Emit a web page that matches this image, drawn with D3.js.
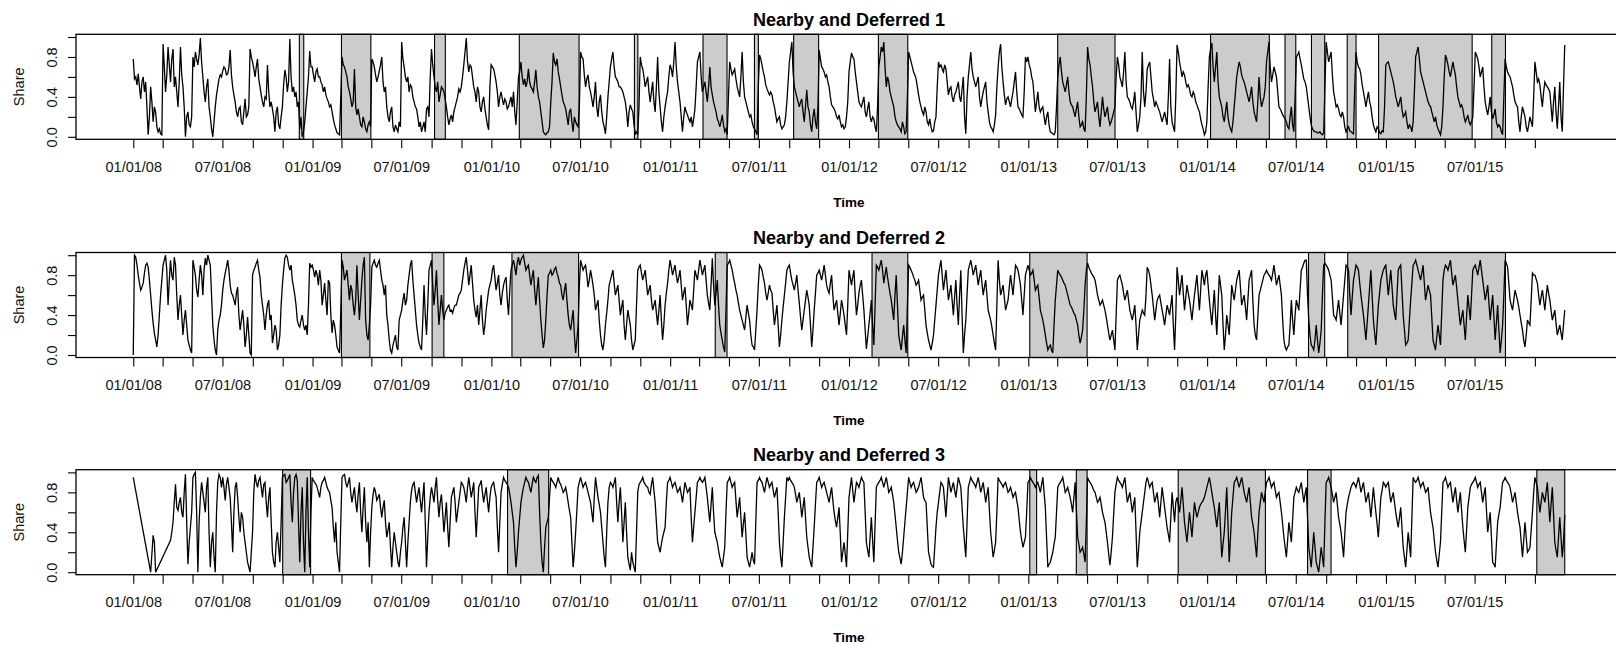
<!DOCTYPE html>
<html><head><meta charset="utf-8">
<script src="https://cdn.jsdelivr.net/npm/d3@7"></script>
<style>body{margin:0;background:#fff}svg{display:block}</style>
</head><body>
<svg id="chart" width="1616" height="645"></svg>
<script>
// ---------- data ----------
const titles = ["Nearby and Deferred 1", "Nearby and Deferred 2", "Nearby and Deferred 3"];
const seriesStart = "2008-01-01";
const seriesEnd = "2016-01-01";

// share values, one row per two-month block (Jan08 .. Nov15), evenly spaced in time
const share1 = [
.78,.58,.6,.52,.63,.5,.38,.55,.6,.45,.55,.3,.02,.2,.5,.35,.15,.3,.25,.1,.05,.08,.03,.02,
.93,.7,.45,.62,.9,.72,.55,.78,.88,.5,.6,.45,.3,.55,.9,.62,.5,.3,.0,.2,.25,.12,.1,.2,
.8,.7,.85,.78,.72,.82,.99,.75,.6,.45,.35,.5,.58,.3,.2,.08,.0,.15,.3,.42,.5,.58,.62,.6,
.66,.7,.68,.62,.63,.7,.87,.62,.5,.42,.35,.25,.2,.28,.3,.15,.12,.25,.38,.2,.22,.3,.88,.8,
.75,.68,.6,.7,.78,.58,.5,.42,.35,.3,.4,.38,.72,.45,.3,.35,.28,.2,.05,.25,.3,.12,.08,.2,
.3,.52,.67,.6,.45,.55,.98,.6,.45,.5,.4,.45,.3,.35,.08,.2,.0,.05,.15,.3,.45,.6,.86,.7,
.7,.62,.55,.65,.68,.6,.6,.55,.52,.45,.5,.42,.38,.35,.3,.32,.25,.18,.12,.08,.04,.03,.02,.4,
.8,.72,.7,.65,.6,.5,.45,.38,.3,.35,.68,.3,.22,.28,.2,.12,.1,.2,.15,.08,.05,.12,.15,.1,
.78,.75,.7,.62,.55,.6,.66,.72,.8,.55,.45,.5,.3,.2,.15,.25,.3,.1,.05,.12,.08,.05,.15,.1,
.95,.78,.7,.6,.55,.6,.45,.52,.5,.4,.35,.3,.28,.2,.1,.15,.05,.1,.15,.05,.28,.3,.2,.6,
.88,.72,.6,.5,.45,.55,.35,.42,.5,.48,.45,.38,.3,.2,.12,.18,.22,.15,.25,.3,.35,.4,.48,.45,
.5,.6,.72,.85,.99,.75,.65,.72,.7,.6,.5,.45,.35,.5,.45,.3,.25,.35,.4,.28,.2,.12,.07,.5,
.72,.7,.68,.62,.55,.45,.3,.4,.45,.38,.32,.38,.35,.28,.3,.35,.4,.3,.45,.25,.12,.35,.6,.65,
.75,.6,.52,.58,.5,.55,.68,.55,.5,.48,.45,.55,.67,.5,.4,.35,.25,.15,.05,.03,.02,.04,.05,.1,
.35,.55,.84,.75,.72,.78,.65,.58,.5,.42,.35,.32,.28,.2,.12,.25,.28,.15,.05,.2,.15,.12,.1,.3,
.85,.8,.78,.62,.5,.58,.62,.5,.45,.38,.3,.4,.55,.3,.2,.35,.42,.25,.15,.1,.03,.2,.4,.55,
.7,.78,.85,.7,.6,.58,.55,.5,.5,.48,.45,.4,.35,.25,.1,.25,.32,.28,.25,.12,.03,.05,.02,.3,
.8,.72,.68,.6,.5,.55,.6,.45,.35,.45,.55,.35,.25,.5,.8,.45,.3,.15,.05,.2,.3,.38,.45,.6,
.72,.68,.6,.75,.95,.7,.55,.45,.35,.2,.05,.2,.3,.25,.22,.18,.15,.2,.1,.18,.28,.5,.75,.8,
.85,.6,.45,.5,.55,.45,.35,.5,.7,.5,.42,.35,.3,.25,.18,.15,.1,.15,.22,.12,.05,.08,.02,.4,
.75,.68,.62,.65,.68,.58,.5,.45,.4,.6,.85,.55,.4,.35,.3,.25,.2,.22,.15,.1,.08,.05,.02,.5,
.82,.78,.72,.65,.6,.52,.48,.45,.42,.45,.42,.35,.3,.22,.15,.18,.2,.12,.08,.1,.12,.2,.35,.55,
.75,.85,.95,.65,.5,.45,.4,.35,.3,.35,.38,.25,.15,.3,.47,.3,.25,.12,.05,.2,.28,.15,.08,.3,
.87,.78,.7,.68,.65,.6,.62,.55,.5,.4,.32,.3,.28,.25,.2,.18,.22,.15,.1,.12,.08,.1,.2,.35,
.65,.75,.84,.8,.78,.65,.55,.45,.35,.32,.3,.35,.4,.25,.2,.28,.35,.2,.15,.2,.18,.1,.05,.3,
.7,.8,.9,.85,.95,.7,.5,.6,.55,.45,.4,.35,.3,.2,.15,.12,.1,.08,.05,.15,.1,.03,.05,.4,
.85,.8,.75,.7,.65,.62,.58,.5,.42,.35,.3,.25,.22,.3,.25,.15,.12,.18,.1,.05,.06,.15,.2,.5,
.75,.7,.72,.68,.65,.72,.68,.55,.42,.48,.5,.4,.35,.42,.45,.5,.55,.4,.35,.48,.6,.2,.03,.4,
.6,.72,.85,.68,.6,.55,.5,.55,.6,.4,.3,.38,.45,.5,.55,.35,.25,.15,.1,.08,.05,.12,.22,.5,
.7,.85,.93,.7,.55,.42,.32,.38,.4,.35,.3,.38,.45,.55,.65,.45,.3,.28,.25,.22,.2,.45,.8,.75,
.8,.72,.68,.6,.55,.4,.25,.35,.45,.3,.25,.28,.3,.2,.12,.2,.25,.12,.05,.04,.03,.02,.05,.3,
.6,.72,.8,.65,.55,.5,.45,.52,.6,.45,.35,.32,.3,.25,.2,.28,.35,.2,.1,.12,.15,.08,.05,.4,
.9,.78,.72,.6,.5,.35,.25,.3,.35,.2,.1,.25,.4,.28,.2,.25,.3,.18,.12,.15,.2,.25,.3,.6,
.8,.72,.6,.55,.5,.65,.85,.55,.4,.38,.35,.3,.28,.35,.45,.25,.05,.12,.2,.4,.85,.45,.3,.45,
.68,.72,.75,.6,.45,.38,.3,.35,.32,.28,.25,.2,.15,.2,.25,.18,.12,.4,.78,.3,.15,.1,.05,.4,
.92,.85,.75,.68,.6,.65,.62,.55,.5,.52,.48,.42,.4,.45,.42,.35,.32,.28,.25,.18,.12,.08,.02,.05,
.15,.5,.8,.88,.94,.7,.55,.7,.85,.55,.4,.35,.3,.2,.15,.25,.35,.2,.12,.08,.05,.15,.3,.45,
.6,.68,.75,.7,.62,.58,.55,.5,.45,.4,.35,.42,.5,.35,.25,.2,.15,.35,.6,.4,.3,.35,.4,.5,
.75,.85,.95,.7,.55,.62,.7,.65,.6,.45,.3,.28,.25,.22,.2,.18,.15,.1,.08,.2,.3,.12,.05,.4,
.8,.82,.85,.78,.72,.65,.58,.55,.5,.4,.3,.2,.12,.08,.06,.05,.05,.04,.04,.05,.03,.02,.04,.5,
.95,.85,.75,.8,.85,.62,.45,.38,.3,.32,.28,.22,.2,.25,.2,.1,.05,.08,.1,.06,.05,.04,.03,.5,
.85,.75,.7,.68,.62,.52,.45,.38,.3,.38,.45,.35,.3,.2,.12,.08,.05,.1,.08,.04,.03,.06,.05,.3,
.72,.74,.75,.7,.65,.6,.55,.48,.4,.35,.3,.35,.4,.28,.2,.22,.25,.15,.08,.12,.1,.05,.15,.45,
.8,.85,.9,.78,.65,.6,.55,.5,.45,.4,.35,.32,.3,.25,.2,.15,.2,.12,.08,.05,.02,.1,.3,.6,
.82,.78,.72,.65,.6,.68,.75,.68,.62,.5,.4,.35,.3,.32,.28,.2,.15,.18,.22,.15,.12,.15,.2,.5,
.85,.82,.78,.7,.6,.65,.7,.5,.35,.28,.22,.3,.4,.25,.18,.22,.28,.15,.1,.12,.1,.05,.02,.4,
.78,.7,.65,.62,.6,.55,.5,.42,.35,.32,.3,.15,.05,.2,.3,.25,.2,.1,.05,.12,.2,.15,.1,.4,
.75,.65,.55,.58,.52,.4,.3,.45,.55,.52,.5,.48,.45,.3,.15,.35,.5,.25,.08,.3,.55,.2,.05,.5,.92
];

const share2 = [
.0,1,.98,.9,.8,.72,.65,.68,.72,.82,.9,.92,.88,.75,.6,.45,.32,.22,.15,.08,.2,.4,.6,.75,
.9,.95,1,.85,.5,.75,.95,.8,.75,.98,.9,.6,.35,.5,.6,.4,.2,.35,.45,.3,.15,.1,.05,.02,
.95,.88,.8,.65,.58,.75,.9,.8,.6,.85,.97,.9,1,.95,.9,.6,.3,.15,.05,.0,.25,.35,.4,.5,
.65,.75,.82,.88,.95,.85,.7,.62,.6,.55,.5,.62,.68,.4,.25,.35,.45,.3,.08,.2,.38,.2,.02,.0,
.8,.85,.88,.92,.95,.85,.78,.6,.5,.4,.25,.4,.5,.55,.35,.4,.12,.2,.3,.25,.05,.1,.2,.5,
.7,.85,.97,1,.98,.9,.85,.9,.75,.68,.6,.5,.35,.3,.28,.35,.4,.3,.25,.3,.2,.5,.92,.88,
.9,.85,.78,.85,.8,.7,.85,.75,.5,.6,.72,.55,.4,.75,.72,.4,.22,.35,.3,.2,.08,.05,.02,.45,
.95,.88,.75,.8,.85,.7,.55,.7,.65,.5,.4,.55,.9,.6,.35,.55,.75,.9,.98,.35,.2,.15,.3,.5,
.88,.92,.95,.9,.88,.92,.95,.85,.75,.7,.6,.7,.4,.3,.15,.05,.02,.1,.15,.2,.08,.05,.35,.4,
.45,.55,.62,.5,.55,.7,.8,.9,.95,.75,.6,.45,.3,.2,.12,.08,.05,.35,.7,.4,.2,.5,.85,.9,
.95,.7,.5,.65,.85,.55,.3,.45,.6,.45,.35,.42,.45,.48,.5,.44,.45,.42,.47,.5,.5,.55,.6,.62,
.65,.75,.85,.92,.98,.85,.7,.8,.9,.72,.55,.45,.38,.5,.3,.45,.6,.35,.2,.3,.45,.55,.65,.7,
.75,.85,.9,.78,.65,.72,.8,.6,.5,.62,.7,.75,.78,.55,.4,.65,.85,.9,.95,.88,.8,.92,.98,.9,
.95,.98,1,.92,.85,.88,.9,.8,.7,.78,.85,.65,.5,.65,.78,.55,.35,.2,.07,.15,.35,.6,.8,.82,
.85,.8,.82,.86,.88,.82,.78,.72,.7,.6,.55,.65,.72,.55,.4,.3,.25,.35,.45,.2,.02,.15,.3,.7,
.95,.9,.85,.88,.9,.8,.68,.75,.85,.78,.7,.6,.45,.5,.55,.35,.2,.1,.05,.15,.3,.42,.55,.7,
.75,.8,.85,.72,.6,.65,.7,.55,.4,.48,.55,.3,.15,.3,.45,.38,.3,.15,.05,.1,.15,.5,.85,.88,
.9,.82,.75,.8,.85,.72,.6,.65,.7,.55,.45,.5,.55,.42,.3,.45,.6,.35,.15,.3,.5,.62,.72,.85,
.95,.88,.8,.85,.9,.8,.72,.78,.85,.7,.55,.62,.68,.5,.3,.42,.55,.5,.45,.65,.85,.8,.75,.85,
.95,.88,.8,.85,.9,.75,.6,.52,.45,.7,.97,.7,.5,.62,.75,.5,.3,.22,.15,.08,.03,.45,.9,.92,
.95,.9,.85,.78,.72,.65,.6,.52,.45,.4,.35,.3,.25,.38,.5,.42,.35,.2,.1,.08,.05,.25,.45,.7,
.9,.88,.85,.78,.72,.62,.55,.62,.7,.65,.62,.45,.3,.4,.5,.3,.08,.2,.35,.48,.6,.72,.85,.88,
.9,.82,.75,.7,.65,.72,.8,.65,.52,.38,.25,.35,.45,.55,.65,.58,.5,.3,.08,.25,.45,.62,.8,.82,
.85,.8,.75,.82,.9,.8,.7,.65,.62,.72,.8,.6,.45,.5,.55,.42,.3,.42,.55,.48,.4,.3,.2,.5,
.85,.78,.7,.78,.85,.6,.4,.5,.62,.7,.75,.6,.45,.25,.06,.18,.3,.42,.55,.3,.1,.5,.9,.88,
.85,.9,.95,.85,.72,.8,.88,.78,.7,.62,.55,.45,.35,.6,.8,.5,.2,.12,.05,.18,.3,.15,.02,.5,
.9,.88,.85,.82,.78,.75,.7,.72,.75,.65,.55,.58,.6,.45,.3,.22,.15,.1,.05,.12,.2,.35,.5,.65,
.8,.88,.95,.8,.65,.75,.85,.7,.55,.62,.7,.55,.4,.58,.75,.5,.3,.6,.85,.4,.02,.2,.35,.6,
.85,.9,.95,.88,.8,.85,.9,.8,.7,.78,.85,.72,.6,.68,.75,.6,.45,.4,.35,.28,.2,.12,.05,.5,
.95,.75,.6,.65,.7,.58,.45,.5,.55,.68,.8,.7,.6,.75,.9,.88,.85,.78,.7,.55,.4,.6,.8,.85,
.9,.85,.8,.82,.85,.75,.65,.68,.7,.58,.45,.4,.35,.28,.2,.12,.05,.08,.1,.05,.02,.3,.55,.7,
.85,.82,.8,.78,.75,.72,.7,.65,.6,.55,.5,.48,.45,.42,.4,.35,.3,.2,.12,.18,.25,.45,.7,.85,
.92,.88,.85,.82,.8,.78,.75,.68,.6,.55,.5,.52,.55,.5,.45,.38,.3,.22,.15,.2,.25,.15,.05,.4,
.75,.78,.8,.75,.7,.62,.55,.6,.65,.55,.45,.4,.35,.42,.5,.3,.05,.2,.35,.4,.45,.42,.4,.6,
.88,.85,.8,.7,.6,.48,.35,.45,.55,.58,.6,.52,.45,.38,.3,.4,.5,.45,.4,.5,.6,.3,.05,.4,
.88,.75,.6,.7,.8,.62,.45,.58,.7,.62,.55,.45,.35,.48,.6,.7,.8,.62,.45,.65,.85,.78,.7,.8,
.85,.7,.55,.42,.3,.48,.65,.4,.2,.5,.8,.7,.6,.3,.05,.2,.4,.3,.2,.45,.7,.62,.55,.65,
.75,.8,.85,.68,.5,.55,.6,.48,.35,.55,.75,.8,.85,.55,.3,.2,.15,.38,.6,.65,.7,.75,.8,.82,
.85,.82,.8,.78,.75,.82,.9,.8,.7,.75,.8,.7,.6,.35,.15,.08,.05,.08,.1,.3,.55,.35,.2,.4,
.55,.5,.45,.65,.85,.88,.92,.95,.95,.6,.35,.2,.1,.08,.05,.15,.3,.15,.02,.12,.25,.6,.9,.92,
.9,.88,.85,.8,.75,.58,.4,.38,.35,.45,.55,.42,.3,.45,.6,.75,.9,.88,.85,.6,.4,.58,.75,.82,
.9,.88,.85,.72,.6,.5,.4,.28,.15,.32,.5,.68,.85,.6,.35,.22,.1,.3,.5,.62,.75,.8,.85,.88,
.9,.75,.6,.72,.85,.68,.5,.42,.35,.6,.85,.88,.9,.65,.4,.25,.1,.12,.15,.35,.55,.72,.9,.92,
.95,.9,.85,.8,.75,.82,.9,.72,.55,.62,.7,.65,.6,.38,.15,.1,.05,.18,.3,.2,.1,.42,.75,.85,
.9,.88,.85,.9,.95,.82,.7,.75,.8,.68,.55,.42,.3,.38,.45,.3,.15,.38,.6,.48,.35,.6,.85,.88,
.9,.85,.8,.88,.95,.85,.75,.65,.55,.62,.7,.52,.35,.48,.6,.38,.15,.32,.5,.25,.02,.15,.3,.6,
.95,.92,.88,.72,.55,.5,.45,.55,.65,.6,.55,.48,.4,.32,.25,.15,.08,.2,.35,.32,.3,.55,.82,.8,
.8,.76,.72,.6,.5,.58,.65,.55,.45,.58,.7,.62,.55,.45,.35,.4,.45,.32,.2,.25,.3,.22,.15,.3,.45
];

const share3 = [
.95,null,null,null,null,null,null,null,null,null,null,null,null,null,.0,null,.37,.3,.0,null,null,null,null,null,
null,null,null,null,null,null,.32,.4,.5,.7,.88,.65,.62,.7,.75,.6,.55,.8,.98,.5,.08,.3,.45,.6,
.95,.98,1,.6,.0,.5,.75,.9,.8,.7,.6,.85,.95,.4,.05,.3,.4,.15,.0,.6,.9,.98,.95,.85,
.95,.85,.72,.88,.95,.85,.75,.5,.2,.6,.85,.9,.75,.55,.4,.6,.55,.4,.3,.2,.1,.05,.0,.2,
.4,.8,.98,.9,.85,.92,.95,.85,.75,.88,.9,.7,.55,.75,.85,.5,.2,.1,.05,.3,.4,.25,.1,.5,
.95,.97,.98,.9,.92,.95,.98,.7,.5,.8,.95,.98,.92,.5,.1,.6,.85,.3,.0,.6,.95,.4,.05,.6,
.95,.92,.9,.88,.85,.8,.75,.85,.9,.92,.95,.9,.85,.82,.8,.72,.65,.45,.3,.5,.2,.1,.0,.5,
.95,.97,.98,.9,.85,.9,.95,.8,.7,.78,.85,.7,.6,.78,.9,.6,.4,.65,.85,.5,.3,.5,.05,.4,
.65,.78,.85,.8,.72,.75,.78,.65,.55,.65,.72,.5,.35,.42,.5,.25,.05,.25,.4,.3,.2,.1,.05,.2,
.3,.45,.55,.3,.05,.3,.5,.7,.82,.88,.9,.8,.7,.78,.85,.72,.6,.75,.9,.5,.05,.35,.6,.75,
.85,.78,.7,.85,.95,.72,.55,.7,.78,.6,.4,.55,.7,.45,.25,.5,.75,.8,.85,.7,.5,.6,.7,.8,
.9,.88,.85,.78,.7,.85,.95,.85,.75,.82,.9,.6,.35,.6,.85,.88,.92,.8,.7,.78,.85,.72,.6,.75,
.85,.88,.9,.82,.75,.45,.2,.5,.8,.88,.95,.92,.9,.88,.85,.78,.7,.6,.5,.25,.05,.2,.4,.55,
.7,.78,.85,.9,.95,.92,.9,.85,.8,.88,.95,.92,.9,.95,.97,.6,.3,.1,.0,.25,.45,.5,.55,.75,
.95,.92,.9,.88,.85,.9,.95,.9,.88,.84,.8,.82,.85,.78,.7,.62,.55,.3,.05,.2,.4,.62,.85,.9,
.95,.9,.85,.88,.9,.85,.8,.75,.7,.6,.5,.75,.95,.85,.75,.68,.6,.45,.3,.15,.05,.4,.7,.85,
.9,.88,.85,.9,.95,.7,.5,.7,.85,.6,.3,.5,.7,.4,.15,.08,.02,.2,.1,.05,.0,.4,.8,.88,
.9,.92,.95,.9,.88,.86,.85,.8,.78,.88,.95,.82,.7,.5,.3,.25,.2,.28,.35,.4,.45,.7,.9,.92,
.95,.9,.85,.88,.9,.85,.8,.82,.85,.78,.7,.8,.9,.85,.8,.82,.85,.55,.3,.45,.6,.75,.9,.92,
.95,.92,.9,.92,.95,.85,.75,.62,.5,.68,.85,.6,.4,.35,.3,.22,.15,.1,.05,.15,.25,.6,.9,.92,
.95,.9,.85,.88,.9,.72,.55,.65,.75,.55,.35,.48,.6,.38,.15,.1,.05,.12,.2,.12,.08,.5,.9,.92,
.95,.92,.9,.85,.8,.88,.95,.9,.85,.88,.9,.82,.75,.8,.85,.6,.3,.15,.05,.3,.55,.75,.95,.92,
.95,.92,.9,.88,.85,.78,.7,.75,.8,.68,.55,.65,.75,.55,.35,.25,.15,.1,.05,.25,.45,.68,.9,.92,
.95,.9,.85,.88,.9,.85,.8,.75,.7,.78,.85,.72,.6,.52,.45,.55,.65,.38,.1,.2,.3,.18,.05,.4,
.75,.85,.95,.82,.7,.8,.9,.88,.85,.9,.95,.92,.9,.6,.3,.22,.15,.35,.55,.32,.1,.48,.85,.88,
.9,.92,.95,.9,.85,.9,.95,.88,.8,.82,.85,.78,.7,.58,.45,.32,.2,.14,.08,.2,.35,.5,.65,.8,
.95,.9,.85,.88,.9,.85,.8,.82,.85,.9,.95,.85,.75,.72,.7,.45,.2,.14,.08,.06,.05,.25,.45,.6,
.7,.8,.9,.88,.85,.7,.55,.75,.95,.88,.8,.85,.9,.82,.75,.85,.95,.9,.85,.65,.45,.3,.15,.5,
.85,.9,.95,.92,.9,.88,.85,.9,.95,.88,.8,.85,.9,.8,.7,.78,.85,.62,.4,.28,.15,.22,.3,.6,
.95,.92,.9,.88,.85,.88,.9,.85,.8,.82,.85,.8,.75,.78,.8,.72,.65,.52,.4,.32,.25,.3,.35,.6,
.9,.92,.95,.92,.9,.88,.85,.88,.9,.85,.8,.88,.95,.8,.65,.35,.05,.08,.1,.15,.2,.28,.35,.6,
.85,.88,.9,.92,.95,.88,.8,.82,.85,.8,.75,.68,.6,.75,.9,.62,.35,.28,.2,.22,.25,.18,.1,.5,
.95,.92,.9,.88,.85,.82,.8,.75,.7,.72,.75,.68,.6,.55,.5,.4,.3,.18,.07,.2,.35,.58,.8,.88,
.95,.92,.9,.88,.85,.9,.95,.82,.7,.75,.8,.7,.6,.68,.75,.4,.05,.22,.4,.5,.6,.7,.8,.9,
.95,.9,.85,.88,.9,.8,.7,.75,.8,.68,.55,.7,.85,.75,.65,.55,.45,.38,.3,.55,.8,.65,.5,.7,
.75,.68,.6,.72,.85,.68,.5,.4,.3,.45,.6,.48,.35,.52,.7,.62,.55,.6,.65,.68,.7,.72,.75,.8,
.85,.9,.95,.88,.8,.72,.65,.55,.45,.58,.7,.42,.15,.28,.4,.62,.85,.48,.1,.35,.6,.75,.9,.92,
.95,.9,.85,.9,.95,.88,.8,.75,.7,.78,.85,.7,.55,.48,.4,.28,.15,.38,.6,.7,.8,.75,.7,.8,
.9,.92,.95,.9,.85,.88,.9,.82,.75,.78,.8,.7,.6,.48,.35,.25,.15,.32,.5,.4,.3,.52,.75,.8,
.85,.82,.8,.85,.9,.8,.7,.78,.85,.55,.25,.15,.05,.22,.4,.25,.1,.05,.0,.12,.25,.15,.05,.5,
.9,.92,.95,.9,.85,.78,.7,.75,.8,.68,.55,.48,.4,.28,.15,.38,.6,.68,.75,.8,.85,.88,.9,.88,
.85,.9,.95,.88,.8,.85,.9,.8,.7,.75,.8,.68,.55,.7,.85,.72,.6,.48,.35,.55,.75,.82,.9,.88,
.85,.88,.9,.8,.7,.75,.8,.7,.6,.52,.45,.55,.65,.45,.25,.15,.05,.22,.4,.28,.15,.55,.95,.92,
.9,.92,.95,.9,.85,.88,.9,.85,.8,.82,.85,.72,.6,.52,.45,.32,.2,.12,.05,.18,.3,.6,.9,.92,
.95,.9,.85,.88,.9,.8,.7,.78,.85,.72,.6,.7,.8,.62,.45,.32,.2,.42,.65,.75,.85,.88,.9,.92,
.95,.9,.85,.88,.9,.8,.7,.78,.85,.62,.4,.5,.6,.35,.1,.08,.05,.28,.5,.58,.65,.78,.9,.92,
.95,.92,.9,.88,.85,.78,.7,.75,.8,.7,.6,.52,.45,.3,.15,.32,.5,.35,.2,.22,.25,.42,.6,.8,
.95,.9,.85,.72,.6,.7,.8,.75,.7,.8,.9,.7,.5,.68,.85,.58,.3,.22,.15,.35,.55,.35,.15,.3,.57
];

// shaded periods [start, end]
const shade1 = [
["2008-12-05","2008-12-14"],["2009-03-01","2009-04-30"],["2009-09-07","2009-09-29"],
["2010-02-27","2010-06-29"],["2010-10-20","2010-10-27"],["2011-03-09","2011-04-27"],
["2011-06-22","2011-06-30"],["2011-09-10","2011-10-31"],["2012-03-01","2012-04-30"],
["2013-03-02","2013-06-27"],["2014-01-08","2014-05-08"],["2014-06-09","2014-07-01"],
["2014-08-02","2014-08-29"],["2014-10-14","2014-11-01"],["2014-12-17","2015-06-26"],
["2015-08-05","2015-09-02"]
];
const shade2 = [
["2009-03-01","2009-04-28"],["2009-09-02","2009-09-26"],["2010-02-12","2010-06-28"],
["2011-04-03","2011-04-27"],["2012-02-17","2012-04-30"],["2013-01-04","2013-05-01"],
["2014-07-27","2014-08-29"],["2014-10-15","2015-09-02"]
];
const shade3 = [
["2008-11-01","2008-12-28"],["2010-02-03","2010-04-28"],["2013-01-04","2013-01-18"],
["2013-04-09","2013-05-01"],["2013-11-03","2014-04-30"],["2014-07-25","2014-09-11"],
["2015-11-05","2016-01-01"]
];

const yTicks = [0, 0.2, 0.4, 0.6, 0.8, 1.0];
const yTickLabels = ["0.0", "", "0.4", "", "0.8", ""];
const xTickFirst = "2008-01-01", xTickLast = "2015-11-01";
const xTickLabels = ["01/01/08","07/01/08","01/01/09","07/01/09","01/01/10","07/01/10",
  "01/01/11","07/01/11","01/01/12","07/01/12","01/01/13","07/01/13",
  "01/01/14","07/01/14","01/01/15","07/01/15"];
const xLabel = "Time", yLabel = "Share";

// ---------- drawing ----------
const parse = d3.utcParse("%Y-%m-%d");
const fmt = d3.utcFormat("%m/%d/%y");
const FONT = "'Liberation Sans', Arial, Helvetica, sans-serif";
const svg = d3.select("#chart");
svg.append("rect").attr("width",1616).attr("height",645).attr("fill","#fff");

const t0 = parse(seriesStart), t1 = parse(seriesEnd);
const pad = 0.04 * (t1 - t0);
const left = 76, right = 1622, boxH = 105;
const x = d3.scaleUtc().domain([new Date(+t0 - pad), new Date(+t1 + pad)]).range([left, right]);
const xTickDates = d3.utcMonth.every(2).range(parse(xTickFirst), d3.utcDay.offset(parse(xTickLast), 1));

const panels = [
  {title: titles[0], values: share1, shade: shade1, top: 34.3},
  {title: titles[1], values: share2, shade: shade2, top: 252.5},
  {title: titles[2], values: share3, shade: shade3, top: 469.7}
];

panels.forEach((p, k) => {
  const g = svg.append("g");
  const top = p.top, bottom = top + boxH;
  const y = d3.scaleLinear().domain([-0.025, 1.027]).range([bottom, top]);
  const n = p.values.length;
  const pts = p.values.map((v, i) => ({date: new Date(+t0 + i * (t1 - t0) / (n - 1)), v}))
                      .filter(d => d.v !== null);

  const clipId = "clip" + k;
  g.append("clipPath").attr("id", clipId).append("rect")
    .attr("x", left).attr("y", top).attr("width", right - left).attr("height", boxH);

  // shaded periods
  g.append("g").selectAll("rect").data(p.shade).join("rect")
    .attr("x", d => x(parse(d[0])))
    .attr("y", top)
    .attr("width", d => x(parse(d[1])) - x(parse(d[0])))
    .attr("height", boxH)
    .attr("fill", "#cccccc")
    .attr("stroke", "#000")
    .attr("stroke-width", 1.1);

  // series line
  const line = d3.line().x(d => x(d.date)).y(d => y(d.v));
  g.append("path").datum(pts)
    .attr("clip-path", `url(#${clipId})`)
    .attr("d", line)
    .attr("fill", "none")
    .attr("stroke", "#000")
    .attr("stroke-width", 1.3)
    .attr("stroke-linejoin", "miter");

  // box
  g.append("rect").attr("x", left).attr("y", top).attr("width", right - left).attr("height", boxH)
    .attr("fill", "none").attr("stroke", "#000").attr("stroke-width", 1.3);

  // x axis
  const xa = d3.axisBottom(x).tickValues(xTickDates).tickSize(9).tickSizeOuter(0).tickPadding(13.5)
    .tickFormat(d => { const s = fmt(d); return xTickLabels.includes(s) ? s : ""; });
  const gx = g.append("g").attr("transform", `translate(0,${bottom})`).call(xa);
  gx.select(".domain").remove();
  gx.selectAll("line").attr("stroke", "#000").attr("stroke-width", 1.1);
  gx.selectAll("text").attr("font-family", FONT).attr("font-size", "14.5px").attr("fill", "#111");

  // y axis
  const ya = d3.axisLeft(y).tickValues(yTicks).tickSize(8).tickSizeOuter(0)
    .tickFormat((d, i) => yTickLabels[i]);
  const gy = g.append("g").attr("transform", `translate(${left},0)`).call(ya);
  gy.select(".domain").remove();
  gy.selectAll("line").attr("stroke", "#000").attr("stroke-width", 1.1);
  gy.selectAll("text")
    .attr("x", null).attr("dy", null)
    .attr("transform", "translate(-19.5,0) rotate(-90)")
    .attr("text-anchor", "middle")
    .attr("font-family", FONT).attr("font-size", "14.5px").attr("fill", "#111");

  // title
  g.append("text").attr("x", (left + right) / 2).attr("y", top - 8.3)
    .attr("text-anchor", "middle").attr("font-family", FONT)
    .attr("font-weight", "bold").attr("font-size", "18px").attr("fill", "#000")
    .text(p.title);

  // x label
  g.append("text").attr("x", (left + right) / 2).attr("y", top + 172.4)
    .attr("text-anchor", "middle").attr("font-family", FONT)
    .attr("font-weight", "bold").attr("font-size", "13.5px").attr("fill", "#000")
    .text(xLabel);

  // y label
  g.append("text").attr("transform", `translate(24,${top + boxH / 2}) rotate(-90)`)
    .attr("text-anchor", "middle").attr("font-family", FONT)
    .attr("font-size", "14.5px").attr("fill", "#111")
    .text(yLabel);
});
</script>
</body></html>
